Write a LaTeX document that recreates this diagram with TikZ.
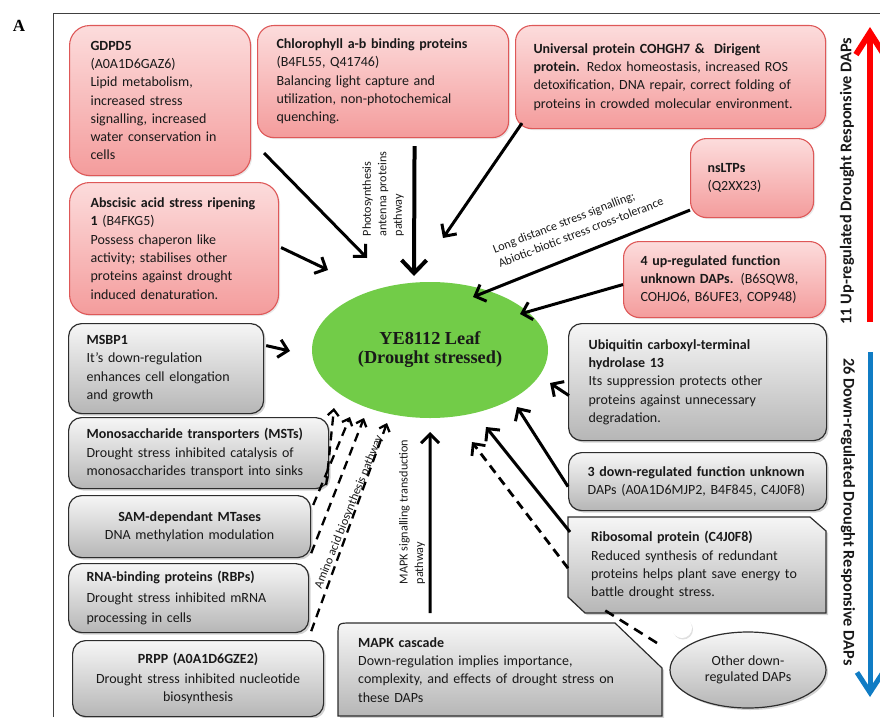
\documentclass[tikz,border=0pt]{standalone}
\usepackage{fontspec}
\setmainfont{Carlito}
\newfontfamily\timesf{Liberation Serif}
\usetikzlibrary{arrows.meta,shapes.geometric,shadows,calc}
\definecolor{uptop}{RGB}{252,220,220}
\definecolor{upbot}{RGB}{244,156,156}
\definecolor{upborder}{RGB}{222,88,88}
\definecolor{dntop}{RGB}{246,246,246}
\definecolor{dnbot}{RGB}{182,182,182}
\definecolor{dnborder}{RGB}{45,45,45}
\definecolor{leafgreen}{RGB}{114,204,72}
\definecolor{upred}{RGB}{255,0,0}
\definecolor{dnblue}{RGB}{16,124,196}
\definecolor{txt}{RGB}{25,25,25}
\newcommand\boxfont{\fontsize{14}{18.3}\selectfont}
\newcommand\lblfont{\fontsize{12.2}{15.5}\selectfont}
\newcommand\bxl[1]{\mbox{#1}}
\tikzset{
  upbox/.style={draw=upborder, line width=1.1pt, top color=uptop, bottom color=upbot,
    rounded corners=16pt, anchor=north west, align=left, inner ysep=0pt,
    font=\boxfont, text=txt,
    drop shadow={opacity=0.18, shadow xshift=1.5pt, shadow yshift=-1.5pt}},
  dnbox/.style={draw=dnborder, line width=1.2pt, top color=dntop, bottom color=dnbot,
    rounded corners=13pt, anchor=north west, align=left, inner ysep=0pt,
    font=\boxfont, text=txt,
    drop shadow={opacity=0.35, shadow xshift=2pt, shadow yshift=-2pt}},
  dnshape/.style={draw=dnborder, line width=1.2pt, top color=dntop, bottom color=dnbot,
    drop shadow={opacity=0.35, shadow xshift=2pt, shadow yshift=-2pt}},
  plaintext/.style={anchor=north west, align=left, inner ysep=0pt, font=\boxfont, text=txt},
  lbl/.style={font=\lblfont, text=txt, align=left, inner sep=0pt},
  blk/.style={line width=3pt, -{Straight Barb[length=9pt,width=18pt]}},
  blkbig/.style={line width=4pt, -{Straight Barb[length=13pt,width=25pt]}},
  dsh/.style={line width=2.3pt, dash pattern=on 9pt off 6pt, -{Straight Barb[length=6pt,width=11pt]}},
  dshline/.style={line width=2.6pt, dash pattern=on 10pt off 7pt},
  sidelbl/.style={font=\fontsize{16.3}{18}\selectfont\bfseries, text=txt, inner sep=0pt},
}
\begin{document}
\begin{tikzpicture}[x=1pt,y=-1pt]
\useasboundingbox (0,0) rectangle (880,717);
% frame and panel letter
\draw[line width=1pt, black!75] (53,717) -- (53,14) -- (880,14);
\node[font=\timesf\bfseries\fontsize{17}{17}\selectfont, inner sep=0pt] (lettera) at (19,26) {A};

% central ellipse
\node[ellipse, fill=leafgreen, minimum width=236pt, minimum height=136pt, inner sep=0pt,
  align=center, font=\timesf\bfseries\fontsize{18.3}{19}\selectfont, text=txt] (leaf) at (430,350)
  {YE8112 Leaf\\(Drought stressed)};

% up-regulated boxes
\node[upbox, rounded corners=20pt, minimum width=181pt, minimum height=150pt, text width=139pt, inner xsep=21pt] (gdpd) at (69,25)
  {\bxl{\textbf{GDPD5}}\\\bxl{(A0A1D6GAZ6)}\\\bxl{Lipid metabolism,}\\\bxl{increased stress}\\\bxl{signalling, increased}\\\bxl{water conservation in}\\\bxl{cells}};
\node[upbox, minimum width=251pt, minimum height=112pt, text width=213pt, inner xsep=19pt] (chl) at (257,25)
  {\bxl{\textbf{Chlorophyll a-b binding proteins}}\\\bxl{(B4FL55, Q41746)}\\\bxl{Balancing light capture and}\\\bxl{utilization, non-photochemical}\\\bxl{quenching.}};
\node[upbox, minimum width=310pt, minimum height=103pt, text width=274pt, inner xsep=18pt] (univ) at (515,25)
  {\bxl{\textbf{Universal protein COHGH7 \&\ \ Dirigent}}\\\bxl{\textbf{protein.} Redox homeostasis, increased ROS}\\\bxl{detoxification, DNA repair, correct folding of}\\\bxl{proteins in crowded molecular environment.}};
\node[upbox, minimum width=123pt, minimum height=79pt, text width=89pt, inner xsep=17pt] (nsl) at (690,138)
  {\bxl{\textbf{nsLTPs}}\\\bxl{(Q2XX23)}};
\node[upbox, minimum width=202pt, minimum height=76pt, text width=168pt, inner xsep=17pt] (fup) at (623,241)
  {\bxl{\textbf{4 up-regulated function}}\\\bxl{\textbf{unknown DAPs.} (B6SQW8,}\\\bxl{COHJO6, B6UFE3, COP948)}};
\node[upbox, rounded corners=20pt, minimum width=209pt, minimum height=132pt, text width=167pt, inner xsep=21pt] (aba) at (69,182)
  {\bxl{\textbf{Abscisic acid stress ripening}}\\\bxl{\textbf{1} (B4FKG5)}\\\bxl{Possess chaperon like}\\\bxl{activity; stabilises other}\\\bxl{proteins against drought}\\\bxl{induced denaturation.}};

% down-regulated boxes
\node[dnbox, minimum width=195pt, minimum height=90pt, text width=159pt, inner xsep=18pt] (msbp) at (68,323)
  {\bxl{\textbf{MSBP1}}\\\bxl{It’s down-regulation}\\\bxl{enhances cell elongation}\\\bxl{and growth}};
\node[dnbox, minimum width=260pt, minimum height=71pt, text width=224pt, inner xsep=18pt] (mst) at (68,417)
  {\bxl{\textbf{Monosaccharide transporters (MSTs)}}\\\bxl{Drought stress inhibited catalysis of}\\\bxl{monosaccharides transport into sinks}};
\node[dnbox, align=center, minimum width=242pt, minimum height=62pt, text width=222pt, inner xsep=10pt] (sam) at (68,495)
  {\bxl{\textbf{SAM-dependant MTases}}\\\bxl{DNA methylation modulation}};
\node[dnbox, minimum width=240pt, minimum height=69pt, text width=204pt, inner xsep=18pt] (rbp) at (68,563)
  {\bxl{\textbf{RNA-binding proteins (RBPs)}}\\[2.5pt]\bxl{Drought stress inhibited mRNA}\\[2.5pt]\bxl{processing in cells}};
\node[dnbox, align=center, minimum width=251pt, minimum height=76pt, text width=231pt, inner xsep=10pt] (prpp) at (72,640)
  {\bxl{\textbf{PRPP (A0A1D6GZE2)}}\\[2pt]\bxl{Drought stress inhibited nucleotide}\\\bxl{biosynthesis}};
\node[dnbox, minimum width=258pt, minimum height=117pt, text width=218pt, inner xsep=20pt] (ubq) at (568,323)
  {\bxl{\textbf{Ubiquitin carboxyl-terminal}}\\\bxl{\textbf{hydrolase 13}}\\\bxl{Its suppression protects other}\\\bxl{proteins against unnecessary}\\\bxl{degradation.}};
\node[dnbox, minimum width=258pt, minimum height=58pt, text width=220pt, inner xsep=19pt] (thr) at (568,452)
  {\bxl{\textbf{3 down-regulated function unknown}}\\\bxl{DAPs (A0A1D6MJP2, B4F845, C4J0F8)}};

% ribosomal (snipped corners)
\path[dnshape] (568,517) -- (810,517) -- (826,531) -- (826,613) -- (585,613) -- (568,597) -- cycle;
\node[plaintext, minimum width=258pt, minimum height=96pt, text width=212pt, inner xsep=23pt] (ribo) at (568,517)
  {\bxl{\textbf{Ribosomal protein (C4J0F8)}}\\\bxl{Reduced synthesis of redundant}\\\bxl{proteins helps plant save energy to}\\\bxl{battle drought stress.}};
% MAPK cascade (snipped corner)
\path[dnshape] (338,716) -- (338,636) .. controls (338,623) .. (351,623) -- (615,623) -- (662,668) -- (662,716) -- cycle;
\node[plaintext, minimum width=324pt, minimum height=93pt, text width=284pt, inner xsep=20pt] (mapk) at (338,623)
  {\bxl{\textbf{MAPK cascade}}\\\bxl{Down-regulation implies importance,}\\\bxl{complexity, and effects of drought stress on}\\\bxl{these DAPs}};

% other down-regulated DAPs
\node[ellipse, draw=dnborder, line width=1.2pt, top color=dntop, bottom color=dnbot,
  drop shadow={opacity=0.35, shadow xshift=2pt, shadow yshift=-2pt},
  minimum width=156pt, minimum height=76pt, inner sep=0pt, align=center,
  font=\fontsize{14}{16.5}\selectfont, text=txt] (oth) at (748,670) {Other down-\\regulated DAPs};
% small white dot
\fill[white, drop shadow={opacity=0.25, shadow xshift=1pt, shadow yshift=-1.5pt}] (682,628) circle (10);

% arrow tips
\coordinate (tgdpd) at (367,258);
\coordinate (tchl) at (414,276);
\coordinate (tuniv) at (443,238);
\coordinate (taba) at (328,270);
\coordinate (tnsl) at (473,297);
\coordinate (tfup) at (520,314);
\coordinate (tmsbp) at (290,351);
\coordinate (tubq) at (550,383);
\coordinate (tthr) at (517,407);
\coordinate (tribo) at (486,427);
\coordinate (tribod) at (472,442);
\coordinate (tmapk) at (430,432);
\coordinate (td1) at (334,408);
\coordinate (td2) at (350,417);
\coordinate (td3) at (364,418);
\coordinate (td4) at (387,423);

% up-regulated connectors
\draw[blk] ([shift={(13,-23)}]gdpd.south east) -- (tgdpd);
\draw[blkbig] ([shift={(31.5,8)}]chl.south) -- (tchl);
\draw[blk] ([shift={(7,-6)}]univ.south west) -- (tuniv);
\draw[blk] ([shift={(2,-1)}]aba.east) -- (taba);
\draw[blk] ([shift={(0,-8)}]nsl.south west) -- (tnsl);
\draw[blk] ([shift={(0,5)}]fup.west) -- (tfup);
% down-regulated connectors
\draw[blk] ([shift={(2,-23)}]msbp.east) -- (tmsbp);
\draw[blk] ([shift={(1,13.5)}]ubq.west) -- (tubq);
\draw[blk] ([shift={(0,5)}]thr.west) -- (tthr);
\draw[blk] ([shift={(2,15)}]ribo.north west) -- (tribo);
\draw[dsh, line width=2.8pt, -{Straight Barb[length=9pt,width=17pt]}] ([shift={(0,3)}]ribo.west) -- (tribod);
\draw[dshline] ([shift={(-91,-27)}]oth.center) -- ([shift={(37,-3)}]ribo.south west);
\draw[line width=3pt, -{Straight Barb[length=9pt,width=18pt]}] ([shift={(-70,-10)}]mapk.north) -- (tmapk);
\draw[dsh] ([shift={(-3,-4)}]mst.south east) -- (td1);
\draw[dsh] ([shift={(2,10)}]sam.north east) -- (td2);
\draw[dsh] ([shift={(0,-5)}]sam.south east) -- (td3);
\draw[dsh] ([shift={(2,-2)}]rbp.south east) -- (td4);

% connector labels
\node[lbl, rotate=90] (lphoto) at (383,194) {Photosynthesis\\antenna proteins\\pathway};
\node[lbl, rotate=21] (llong) at (578,225) {Long distance stress signalling;\\Abiotic-biotic stress cross-tolerance};
\node[lbl, rotate=90] (lmapk) at (412,512) {MAPK signalling transduction\\pathway};
\node[lbl, rotate=68] (lamino) at (349,512) {Amino acid biosynthesis pathway};

% side arrows
\coordinate (rbot) at (870,322);
\coordinate (rtop) at (870,27);
\coordinate (btop) at (870,352);
\coordinate (bbot) at (870,697);
\draw[upred, line width=6pt, -{Straight Barb[length=22pt,width=28pt]}] (rbot) -- (rtop);
\draw[dnblue, line width=5pt, -{Straight Barb[length=20pt,width=26pt]}] (btop) -- (bbot);
\node[sidelbl, rotate=90] (lup) at (847,181) {11 Up-regulated Drought Responsive DAPs};
\node[sidelbl, rotate=-90] (ldn) at (848,512) {26 Down-regulated Drought Responsive DAPs};
\end{tikzpicture}
\end{document}
